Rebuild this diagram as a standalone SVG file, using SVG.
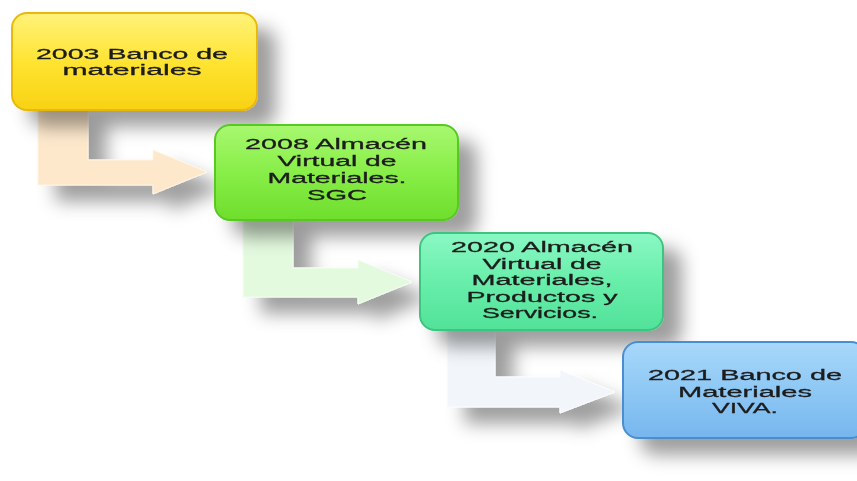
<svg xmlns="http://www.w3.org/2000/svg" width="857" height="481" viewBox="0 0 857 481">
<defs>
<filter id="sh" x="-30%" y="-30%" width="170%" height="180%">
<feGaussianBlur in="SourceAlpha" stdDeviation="9"/>
<feOffset dx="18" dy="16" result="b"/>
<feFlood flood-color="#000" flood-opacity="0.38"/>
<feComposite in2="b" operator="in"/>
<feMerge><feMergeNode/><feMergeNode in="SourceGraphic"/></feMerge>
</filter>
<linearGradient id="gY" x1="0" y1="0" x2="0" y2="1"><stop offset="0" stop-color="#fff27a"/><stop offset="0.5" stop-color="#ffe432"/><stop offset="1" stop-color="#f8d214"/></linearGradient>
<linearGradient id="gG" x1="0" y1="0" x2="0" y2="1"><stop offset="0" stop-color="#a8f870"/><stop offset="0.5" stop-color="#88ee48"/><stop offset="1" stop-color="#6ede2c"/></linearGradient>
<linearGradient id="gT" x1="0" y1="0" x2="0" y2="1"><stop offset="0" stop-color="#8af8c4"/><stop offset="0.5" stop-color="#68eeaa"/><stop offset="1" stop-color="#52e29a"/></linearGradient>
<linearGradient id="gB" x1="0" y1="0" x2="0" y2="1"><stop offset="0" stop-color="#a8d8fa"/><stop offset="0.5" stop-color="#8ec8f4"/><stop offset="1" stop-color="#76b6ee"/></linearGradient>
</defs>
<style>
.box{stroke-width:2}
.t{font-family:"Liberation Sans",Arial,sans-serif;font-size:15.5px;fill:#1c1c1c;stroke:#1c1c1c;stroke-width:0.3;text-anchor:middle}
</style>
<rect width="857" height="481" fill="#ffffff"/>
<g id="connectors" filter="url(#sh)">
<polygon fill="#fde8cc" stroke="#fff4e4" stroke-width="1" points="38,108 88,108 88,160 153,160 153,150 207,172 153,194 153,185 38,185"/>
<polygon fill="#e4fadf" stroke="#f2fdf0" stroke-width="1" points="243,218 293,218 293,268 358,268 358,260 412,282 358,304 358,297 243,297"/>
<polygon fill="#f2f6fb" stroke="#fbfcfe" stroke-width="1" points="447,328 495,328 495,377 560,377 560,370 615,392 560,413 560,407 447,407"/>
</g>
<g id="node1" filter="url(#sh)">
<rect class="box" x="12" y="13" width="245" height="97" rx="15" fill="url(#gY)" stroke="#e9b80a"/>
<text class="t" x="132" y="59" textLength="192" lengthAdjust="spacingAndGlyphs">2003 Banco de</text>
<text class="t" x="132" y="75" textLength="139" lengthAdjust="spacingAndGlyphs">materiales</text>
</g>
<g id="node2" filter="url(#sh)">
<rect class="box" x="215" y="125" width="243" height="95" rx="15" fill="url(#gG)" stroke="#58c824"/>
<text class="t" x="336" y="149" textLength="182" lengthAdjust="spacingAndGlyphs">2008 Almacén</text>
<text class="t" x="337" y="166" textLength="119" lengthAdjust="spacingAndGlyphs">Virtual de</text>
<text class="t" x="337" y="183" textLength="139" lengthAdjust="spacingAndGlyphs">Materiales.</text>
<text class="t" x="337" y="200" textLength="60" lengthAdjust="spacingAndGlyphs">SGC</text>
</g>
<g id="node3" filter="url(#sh)">
<rect class="box" x="420" y="233" width="243" height="97" rx="15" fill="url(#gT)" stroke="#3ec47e"/>
<text class="t" x="542" y="252" textLength="182" lengthAdjust="spacingAndGlyphs">2020 Almacén</text>
<text class="t" x="542" y="268.5" textLength="119" lengthAdjust="spacingAndGlyphs">Virtual de</text>
<text class="t" x="542" y="285" textLength="141" lengthAdjust="spacingAndGlyphs">Materiales,</text>
<text class="t" x="542" y="301.5" textLength="151" lengthAdjust="spacingAndGlyphs">Productos y</text>
<text class="t" x="540" y="318" textLength="116" lengthAdjust="spacingAndGlyphs">Servicios.</text>
</g>
<g id="node4" filter="url(#sh)">
<rect class="box" x="623" y="342" width="243" height="96" rx="15" fill="url(#gB)" stroke="#4a8fd0"/>
<text class="t" x="745" y="380" textLength="194" lengthAdjust="spacingAndGlyphs">2021 Banco de</text>
<text class="t" x="745" y="397" textLength="134" lengthAdjust="spacingAndGlyphs">Materiales</text>
<text class="t" x="745" y="413" textLength="66" lengthAdjust="spacingAndGlyphs">VIVA.</text>
</g>
</svg>
